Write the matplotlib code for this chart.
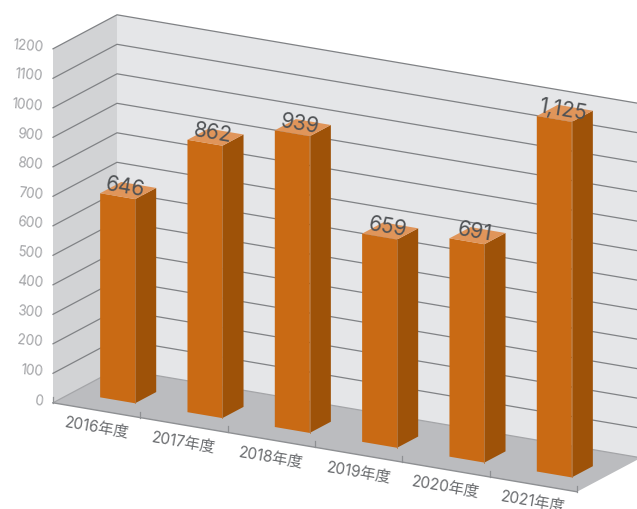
import matplotlib
matplotlib.use("Agg")
import matplotlib.pyplot as plt
from matplotlib.patches import Polygon

plt.rcParams['font.family'] = ['Inter', 'Noto Sans CJK JP', 'DejaVu Sans']

# --- Data ---
categories = ["2016年度", "2017年度", "2018年度", "2019年度", "2020年度", "2021年度"]
values = [646, 862, 939, 659, 691, 1125]
value_labels = ["646", "862", "939", "659", "691", "1,125"]
y_ticks = [0, 100, 200, 300, 400, 500, 600, 700, 800, 900, 1000, 1100, 1200]

# --- Oblique projection (pixels) ---
ORIGIN = (53.0, 403.8)
CAT_STEP = (87.33, 14.83)
DEPTH_STEP = (64.0, -34.0)
WALL_SCALE = 354.0 / 1200   # px per unit on the walls
BAR_SCALE = 0.316           # px per unit on the columns, they stand nearer than the wall
BAR_U, BAR_W = 0.32, 0.40
BAR_V, BAR_D = 0.30, 0.33


def project(u, v, height=0.0):
    x = ORIGIN[0] + u * CAT_STEP[0] + v * DEPTH_STEP[0]
    y = ORIGIN[1] + u * CAT_STEP[1] + v * DEPTH_STEP[1] - height
    return (x, y)


fig = plt.figure(figsize=(6.37, 5.10), dpi=100)
ax = fig.add_axes([0, 0, 1, 1])
ax.set_xlim(0, 637)
ax.set_ylim(510, 0)
ax.axis('off')

n = len(categories)
top = y_ticks[-1] * WALL_SCALE


def face(points, color, z, edge='none', lw=0):
    ax.add_patch(Polygon(points, closed=True, facecolor=color, edgecolor=edge, linewidth=lw, zorder=z))


# --- Walls and floor ---
face([project(0, 1), project(n, 1), project(n, 1, top), project(0, 1, top)], '#E5E6E8', 1)
face([project(0, 0), project(0, 1), project(0, 1, top), project(0, 0, top)], '#D2D3D5', 1)
face([project(0, 0), project(n, 0), project(n, 1), project(0, 1)], '#BBBCBF', 1)

# --- Grid lines ---
for t in y_ticks:
    h = t * WALL_SCALE
    p0, p1, p2 = project(0, 0, h), project(0, 1, h), project(n, 1, h)
    color = '#A4A5A8' if t == 0 else '#808285'
    ax.plot([p0[0], p1[0], p2[0]], [p0[1], p1[1], p2[1]], color=color, lw=0.9, zorder=2)
    ax.text(p0[0] - 10, p0[1] - 2.5, str(t), color='#A2A3A6', fontsize=9.8, ha='right', va='center',
            rotation=-5, rotation_mode='anchor', zorder=5)

# --- Category axis ---
p0, p1 = project(0, 0), project(n, 0)
ax.plot([p0[0], p1[0]], [p0[1], p1[1]], color='#8E9093', lw=1.0, zorder=3)
for i in range(n + 1):
    p = project(i, 0)
    ax.plot([p[0], p[0]], [p[1], p[1] - 6], color='#8E9093', lw=0.9, zorder=3)

for i, cat in enumerate(categories):
    p = project(i + 0.5, 0)
    ax.text(p[0], p[1] + 16.5, cat, color='#6A6C6F', fontsize=11, ha='center', va='center',
            rotation=-9.6, rotation_mode='anchor', zorder=5)

# --- Columns ---
for i, val in enumerate(values):
    h = val * BAR_SCALE
    u0, u1 = i + BAR_U, i + BAR_U + BAR_W
    v0, v1 = BAR_V, BAR_V + BAR_D
    face([project(u0, v0), project(u1, v0), project(u1, v0, h), project(u0, v0, h)], '#C96A14', 4)
    face([project(u1, v0), project(u1, v1), project(u1, v1, h), project(u1, v0, h)], '#9E5208', 4)
    face([project(u0, v0, h), project(u1, v0, h), project(u1, v1, h), project(u0, v1, h)], '#E0955A', 4)
    a, b = project(u1, v0), project(u1, v0, h)
    ax.plot([a[0], b[0]], [a[1], b[1]], color='#B87A42', lw=0.6, zorder=4)

# --- Value labels ---
for i, (val, lab) in enumerate(zip(values, value_labels)):
    p = project(i + BAR_U + BAR_W / 2, BAR_V + BAR_D / 2, val * BAR_SCALE)
    ax.text(p[0] - 2.5, p[1] - 4.5, lab, color='#4F5255', fontsize=15, ha='center', va='center',
            rotation=-9.6, rotation_mode='anchor', zorder=6)

fig.savefig("out.png", dpi=100)
